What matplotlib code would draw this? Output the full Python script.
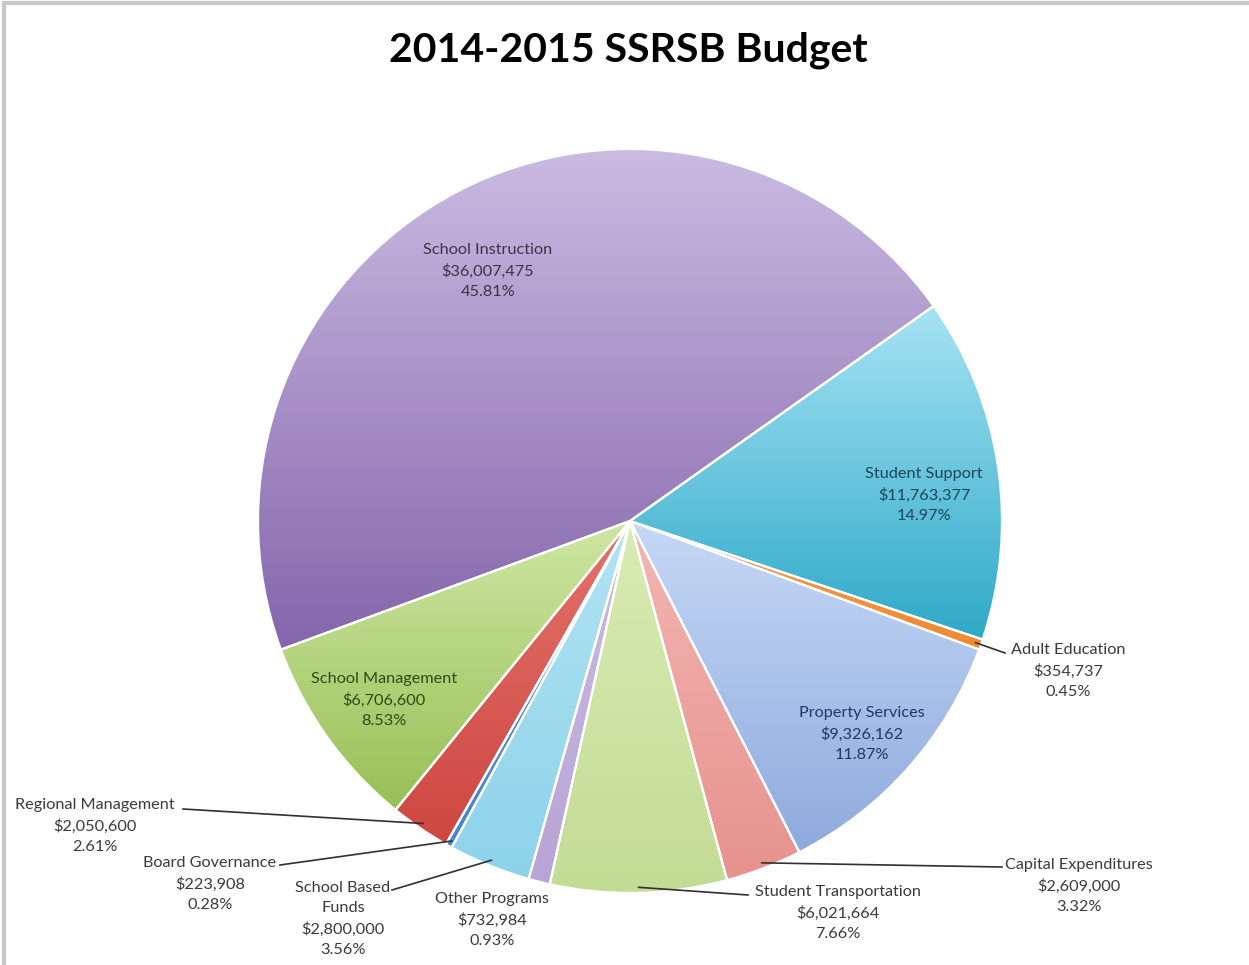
import numpy as np
import matplotlib
matplotlib.use("Agg")
import matplotlib.pyplot as plt
from matplotlib.colors import to_rgb

# ---------------- data ----------------
categories = ["Student Support", "Adult Education", "Property Services",
              "Capital Expenditures", "Student Transportation", "Other Programs",
              "School Based\nFunds", "Board Governance", "Regional Management",
              "School Management", "School Instruction"]
values = [11763377, 354737, 9326162, 2609000, 6021664, 732984,
          2800000, 223908, 2050600, 6706600, 36007475]
title = "2014-2015 SSRSB Budget"

# ---------------- style ----------------
top_colors = ["#a6e3f4", "#f89a4a", "#c6d8f6", "#f3b6b3", "#d9ebb3", "#cbbce2",
              "#b2e4f3", "#5596dc", "#e5726c", "#cfe6a3", "#cabbe2"]
bot_colors = ["#2ea9c8", "#ef8a2e", "#8eaadd", "#e6928e", "#c3dc95", "#b8a4d5",
              "#8dd2ea", "#4685d2", "#cd4740", "#98bf56", "#8465ab"]
text_colors = ["#1e4656", "#3a3a3a", "#1f3864", "#3a3a3a", "#3a3a3a", "#3a3a3a",
               "#3a3a3a", "#3a3a3a", "#3a3a3a", "#2f4a12", "#3a3448"]
# label block centres (pixels from top-left)
label_pos = [(924, 495), (1068, 671), (862, 734), (1079, 886), (838, 913),
             (492, 920), (343, 919), (210, 884), (95, 826), (384, 700), (488, 271)]
# leader start points (text side), None = no leader
leader_start = [None, (1005, 653), None, (1002, 867), (748, 895), None,
                (392, 890), (280, 865), (183, 809), None, None]

W, H = 1249, 965
CX, CY, R = 630, 521, 372

fig = plt.figure(figsize=(W / 100, H / 100), dpi=100)
ax = fig.add_axes([0, 0, 1, 1])

wedges, _ = ax.pie(values, startangle=35.3, counterclock=False, radius=R,
                   center=(CX, H - CY), colors=top_colors,
                   wedgeprops=dict(edgecolor="white", linewidth=1.6))

total = float(sum(values))
for i, w in enumerate(wedges):
    t = np.radians(np.linspace(w.theta1, w.theta2, 200))
    ys = np.concatenate([[H - CY], H - CY + R * np.sin(t)])
    ymin, ymax = ys.min(), ys.max()
    c0, c1 = np.array(to_rgb(bot_colors[i])), np.array(to_rgb(top_colors[i]))
    f = np.linspace(0, 1, 256)[:, None]
    grad = (c0[None, :] * (1 - f) + c1[None, :] * f)[:, None, :]
    im = ax.imshow(grad, extent=[CX - R, CX + R, ymin, ymax], origin="lower",
                   aspect="auto", zorder=1, interpolation="bilinear")
    im.set_clip_path(w)
    w.set_facecolor("none")
    w.set_zorder(2)

    pct = 100.0 * values[i] / total
    txt = f"{categories[i]}\n${values[i]:,}\n{pct:.2f}%"
    lx, ly = label_pos[i]
    ax.text(lx, H - ly, txt, ha="center", va="center", fontsize=11.7,
            family="Lato", color=text_colors[i], linespacing=1.56, zorder=4)

    if leader_start[i] is not None:
        mid = np.radians((w.theta1 + w.theta2) / 2)
        ex, ey = CX + 0.985 * R * np.cos(mid), H - CY + 0.985 * R * np.sin(mid)
        sx, sy = leader_start[i]
        ax.plot([sx, ex], [H - sy, ey], color="#303030", lw=1.2, zorder=3)

ax.text(628, H - 50, title, ha="center", va="center", fontsize=29.5,
        fontweight="bold", family="Lato", color="black")

# chart border (top and left)
ax.plot([4, 4, W], [0, H - 3, H - 3], color="#c8c8c8", lw=3, zorder=5,
        solid_joinstyle="miter")

ax.set_xlim(0, W)
ax.set_ylim(0, H)
ax.set_aspect("equal")
ax.axis("off")
fig.savefig("out.png", dpi=100, facecolor="white")
